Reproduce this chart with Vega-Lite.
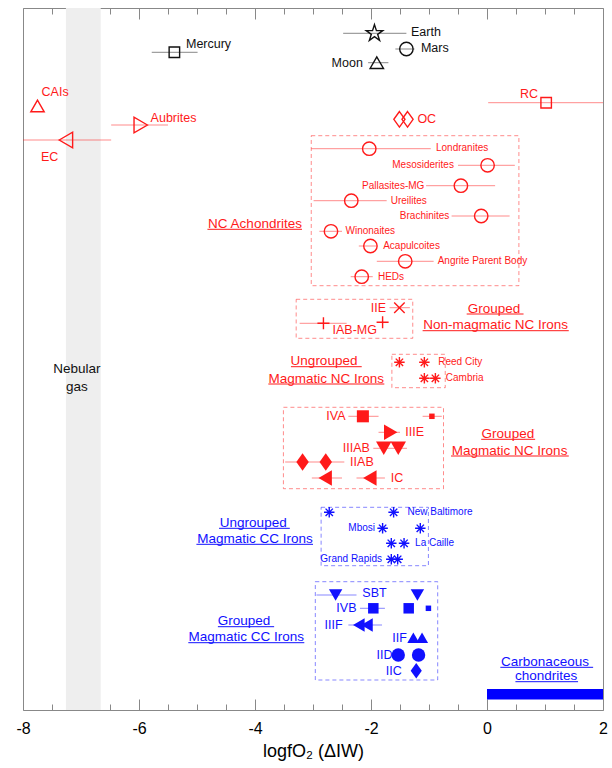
{
  "$schema": "https://vega.github.io/schema/vega-lite/v6.json",
  "width": 580,
  "height": 702,
  "autosize": "none",
  "padding": {"left": 23, "top": 8, "right": 9, "bottom": 58},
  "config": {
    "view": {"stroke": "#888888", "strokeWidth": 1},
    "font": "Liberation Sans",
    "text": {"font": "Liberation Sans"}
  },
  "datasets": {
    "points": [
      {"name": "Earth", "x": -1.94, "h": 676.7, "sym": "star", "grp": "P", "kind": "open", "sz": "huge"},
      {"name": "Mars", "x": -1.39, "h": 661, "sym": "circle", "grp": "P", "kind": "open", "sz": "normal"},
      {"name": "Moon", "x": -1.9, "h": 647.3, "sym": "tri-up", "grp": "P", "kind": "open", "sz": "normal"},
      {"name": "Mercury", "x": -5.39, "h": 657.7, "sym": "square", "grp": "P", "kind": "open", "sz": "small"},
      {"name": "CAIs", "x": -7.75, "h": 604, "sym": "tri-up", "grp": "NC", "kind": "open", "sz": "normal"},
      {"name": "Aubrites", "x": -5.97, "h": 585, "sym": "tri-right", "grp": "NC", "kind": "open", "sz": "large"},
      {"name": "EC", "x": -7.26, "h": 570, "sym": "tri-left", "grp": "NC", "kind": "open", "sz": "large"},
      {"name": "RC", "x": 1.02, "h": 607.3, "sym": "square", "grp": "NC", "kind": "open", "sz": "small"},
      {"name": "OC", "x": -1.51, "h": 590.7, "sym": "diamond", "grp": "NC", "kind": "open", "sz": "large"},
      {"name": "OC", "x": -1.37, "h": 590.7, "sym": "diamond", "grp": "NC", "kind": "open", "sz": "large"},
      {"name": "Londranites", "x": -2.03, "h": 561.3, "sym": "circle", "grp": "NC", "kind": "open", "sz": "normal"},
      {"name": "Mesosiderites", "x": 0.01, "h": 544.7, "sym": "circle", "grp": "NC", "kind": "open", "sz": "normal"},
      {"name": "Pallasites-MG", "x": -0.45, "h": 524.3, "sym": "circle", "grp": "NC", "kind": "open", "sz": "normal"},
      {"name": "Ureilites", "x": -2.34, "h": 509.3, "sym": "circle", "grp": "NC", "kind": "open", "sz": "normal"},
      {"name": "Brachinites", "x": -0.1, "h": 494, "sym": "circle", "grp": "NC", "kind": "open", "sz": "normal"},
      {"name": "Winonaites", "x": -2.69, "h": 478.7, "sym": "circle", "grp": "NC", "kind": "open", "sz": "normal"},
      {"name": "Acapulcoites", "x": -2.01, "h": 464, "sym": "circle", "grp": "NC", "kind": "open", "sz": "normal"},
      {"name": "Angrite Parent Body", "x": -1.41, "h": 448.7, "sym": "circle", "grp": "NC", "kind": "open", "sz": "normal"},
      {"name": "HEDs", "x": -2.16, "h": 433.3, "sym": "circle", "grp": "NC", "kind": "open", "sz": "normal"},
      {"name": "IIE", "x": -1.51, "h": 402.3, "sym": "x", "grp": "NC", "kind": "open", "sz": "small"},
      {"name": "IAB-MG", "x": -2.82, "h": 386.7, "sym": "plus", "grp": "NC", "kind": "open", "sz": "medium"},
      {"name": "IAB-MG", "x": -1.8, "h": 387.7, "sym": "plus", "grp": "NC", "kind": "open", "sz": "medium"},
      {"name": "ungrouped NC", "x": -1.51, "h": 347.7, "sym": "asterisk", "grp": "NC", "kind": "open", "sz": "small"},
      {"name": "Reed City", "x": -1.08, "h": 347.7, "sym": "asterisk", "grp": "NC", "kind": "open", "sz": "small"},
      {"name": "ungrouped NC", "x": -1.08, "h": 331.7, "sym": "asterisk", "grp": "NC", "kind": "open", "sz": "small"},
      {"name": "Cambria", "x": -0.89, "h": 331.7, "sym": "asterisk", "grp": "NC", "kind": "open", "sz": "small"},
      {"name": "IVA", "x": -2.14, "h": 293.7, "sym": "square", "grp": "NC", "kind": "filled", "sz": "medium"},
      {"name": "IVA", "x": -0.95, "h": 293.7, "sym": "square", "grp": "NC", "kind": "filled", "sz": "tiny"},
      {"name": "IIIE", "x": -1.66, "h": 277.7, "sym": "tri-right", "grp": "NC", "kind": "filled", "sz": "large"},
      {"name": "IIIAB", "x": -1.78, "h": 261.7, "sym": "tri-down", "grp": "NC", "kind": "filled", "sz": "large"},
      {"name": "IIIAB", "x": -1.53, "h": 261.7, "sym": "tri-down", "grp": "NC", "kind": "filled", "sz": "large"},
      {"name": "IIAB", "x": -3.18, "h": 248, "sym": "diamond", "grp": "NC", "kind": "filled", "sz": "huge"},
      {"name": "IIAB", "x": -2.78, "h": 248, "sym": "diamond", "grp": "NC", "kind": "filled", "sz": "huge"},
      {"name": "IC", "x": -2.79, "h": 232, "sym": "tri-left", "grp": "NC", "kind": "filled", "sz": "large"},
      {"name": "IC", "x": -2.02, "h": 232, "sym": "tri-left", "grp": "NC", "kind": "filled", "sz": "large"},
      {"name": "ungrouped CC", "x": -2.72, "h": 197.7, "sym": "asterisk", "grp": "CC", "kind": "open", "sz": "small"},
      {"name": "New Baltimore", "x": -1.61, "h": 197.7, "sym": "asterisk", "grp": "CC", "kind": "open", "sz": "small"},
      {"name": "Mbosi", "x": -1.8, "h": 181.7, "sym": "asterisk", "grp": "CC", "kind": "open", "sz": "small"},
      {"name": "ungrouped CC", "x": -1.15, "h": 181.7, "sym": "asterisk", "grp": "CC", "kind": "open", "sz": "small"},
      {"name": "La Caille", "x": -1.65, "h": 166.7, "sym": "asterisk", "grp": "CC", "kind": "open", "sz": "small"},
      {"name": "La Caille", "x": -1.43, "h": 166.7, "sym": "asterisk", "grp": "CC", "kind": "open", "sz": "small"},
      {"name": "Grand Rapids", "x": -1.65, "h": 150.7, "sym": "asterisk", "grp": "CC", "kind": "open", "sz": "small"},
      {"name": "Grand Rapids", "x": -1.54, "h": 150.7, "sym": "asterisk", "grp": "CC", "kind": "open", "sz": "small"},
      {"name": "SBT", "x": -2.61, "h": 115, "sym": "tri-down", "grp": "CC", "kind": "filled", "sz": "normal"},
      {"name": "SBT", "x": -1.2, "h": 115, "sym": "tri-down", "grp": "CC", "kind": "filled", "sz": "normal"},
      {"name": "IVB", "x": -1.96, "h": 101.7, "sym": "square", "grp": "CC", "kind": "filled", "sz": "small"},
      {"name": "IVB", "x": -1.35, "h": 101.7, "sym": "square", "grp": "CC", "kind": "filled", "sz": "small"},
      {"name": "IVB", "x": -1.01, "h": 101.7, "sym": "square", "grp": "CC", "kind": "filled", "sz": "tiny"},
      {"name": "IIIF", "x": -2.21, "h": 85, "sym": "tri-left", "grp": "CC", "kind": "filled", "sz": "normal"},
      {"name": "IIIF", "x": -2.07, "h": 85, "sym": "tri-left", "grp": "CC", "kind": "filled", "sz": "normal"},
      {"name": "IIF", "x": -1.27, "h": 72.3, "sym": "tri-up", "grp": "CC", "kind": "filled", "sz": "medium"},
      {"name": "IIF", "x": -1.12, "h": 72.3, "sym": "tri-up", "grp": "CC", "kind": "filled", "sz": "medium"},
      {"name": "IID", "x": -1.53, "h": 55, "sym": "circle", "grp": "CC", "kind": "filled", "sz": "normal"},
      {"name": "IID", "x": -1.18, "h": 55, "sym": "circle", "grp": "CC", "kind": "filled", "sz": "normal"},
      {"name": "IIC", "x": -1.22, "h": 39.3, "sym": "diamond", "grp": "CC", "kind": "filled", "sz": "large"}
    ],
    "bars": [
      {"name": "Earth", "lo": -2.48, "hi": -1.39, "h": 676.7, "grp": "P"},
      {"name": "Mars", "lo": -1.58, "hi": -1.25, "h": 661, "grp": "P"},
      {"name": "Moon", "lo": -2.05, "hi": -1.7, "h": 647.3, "grp": "P"},
      {"name": "Mercury", "lo": -5.78, "hi": -4.99, "h": 657.7, "grp": "P"},
      {"name": "Aubrites", "lo": -6.48, "hi": -5.5, "h": 585, "grp": "NC"},
      {"name": "EC", "lo": -8, "hi": -6.48, "h": 570, "grp": "NC"},
      {"name": "RC", "lo": 0.02, "hi": 2, "h": 607.3, "grp": "NC"},
      {"name": "Londranites", "lo": -3.03, "hi": -0.97, "h": 561.3, "grp": "NC"},
      {"name": "Mesosiderites", "lo": -0.5, "hi": 0.48, "h": 544.7, "grp": "NC"},
      {"name": "Pallasites-MG", "lo": -1.05, "hi": 0.14, "h": 524.3, "grp": "NC"},
      {"name": "Ureilites", "lo": -2.99, "hi": -1.73, "h": 509.3, "grp": "NC"},
      {"name": "Brachinites", "lo": -0.61, "hi": 0.39, "h": 494, "grp": "NC"},
      {"name": "Winonaites", "lo": -2.89, "hi": -2.5, "h": 478.7, "grp": "NC"},
      {"name": "Acapulcoites", "lo": -2.21, "hi": -1.9, "h": 464, "grp": "NC"},
      {"name": "Angrite Parent Body", "lo": -1.9, "hi": -0.92, "h": 448.7, "grp": "NC"},
      {"name": "HEDs", "lo": -2.35, "hi": -1.97, "h": 433.3, "grp": "NC"},
      {"name": "IIE", "lo": -1.68, "hi": -1.33, "h": 402.3, "grp": "NC"},
      {"name": "IAB-MG", "lo": -3.23, "hi": -2.42, "h": 386.7, "grp": "NC"},
      {"name": "Cambria", "lo": -1.08, "hi": -0.89, "h": 331.7, "grp": "NC"},
      {"name": "IVA", "lo": -2.39, "hi": -1.87, "h": 293.7, "grp": "NC"},
      {"name": "IVA", "lo": -1.11, "hi": -0.78, "h": 293.7, "grp": "NC"},
      {"name": "IIIE", "lo": -1.87, "hi": -1.5, "h": 277.7, "grp": "NC"},
      {"name": "IIIAB", "lo": -1.96, "hi": -1.38, "h": 261.7, "grp": "NC"},
      {"name": "IIAB", "lo": -3.48, "hi": -2.46, "h": 248, "grp": "NC"},
      {"name": "IC", "lo": -3.02, "hi": -2.5, "h": 232, "grp": "NC"},
      {"name": "IC", "lo": -2.25, "hi": -1.76, "h": 232, "grp": "NC"},
      {"name": "SBT", "lo": -2.94, "hi": -2.25, "h": 115, "grp": "CC"},
      {"name": "IVB", "lo": -2.19, "hi": -1.76, "h": 101.7, "grp": "CC"},
      {"name": "IIIF", "lo": -2.39, "hi": -1.81, "h": 85, "grp": "CC"}
    ],
    "boxes": [
      {"lo": -3.03, "hi": 0.55, "top": 574.3, "bot": 424.3, "grp": "NC"},
      {"lo": -3.29, "hi": -1.28, "top": 410.7, "bot": 371.7, "grp": "NC"},
      {"lo": -1.64, "hi": -0.72, "top": 355.7, "bot": 322.3, "grp": "NC"},
      {"lo": -3.51, "hi": -0.75, "top": 302.7, "bot": 221.3, "grp": "NC"},
      {"lo": -2.86, "hi": -1.01, "top": 202.7, "bot": 144.3, "grp": "CC"},
      {"lo": -2.96, "hi": -0.85, "top": 128.3, "bot": 30, "grp": "CC"}
    ],
    "underlines": [
      {"lo": -4.82, "hi": -3.19, "h": 480.7, "grp": "NC"},
      {"lo": -0.35, "hi": 0.63, "h": 396, "grp": "NC"},
      {"lo": -1.11, "hi": 1.41, "h": 379.3, "grp": "NC"},
      {"lo": -3.38, "hi": -2.16, "h": 343.3, "grp": "NC"},
      {"lo": -3.77, "hi": -1.77, "h": 326, "grp": "NC"},
      {"lo": -0.1, "hi": 0.83, "h": 270.7, "grp": "NC"},
      {"lo": -0.62, "hi": 1.41, "h": 254, "grp": "NC"},
      {"lo": -4.62, "hi": -3.4, "h": 181.7, "grp": "CC"},
      {"lo": -5.01, "hi": -3.0, "h": 165.7, "grp": "CC"},
      {"lo": -4.64, "hi": -3.67, "h": 83.3, "grp": "CC"},
      {"lo": -5.15, "hi": -3.15, "h": 67.3, "grp": "CC"},
      {"lo": 0.23, "hi": 1.83, "h": 42.7, "grp": "CC"},
      {"lo": 0.49, "hi": 1.57, "h": 28.3, "grp": "CC"}
    ],
    "labels": [
      {"text": "Earth", "x": -1.31, "h": 678, "cls": "L12", "grp": "P"},
      {"text": "Mars", "x": -1.14, "h": 662, "cls": "L12", "grp": "P"},
      {"text": "Mercury", "x": -5.19, "h": 666, "cls": "L12", "grp": "P"},
      {"text": "CAIs", "x": -7.68, "h": 618, "cls": "L12", "grp": "NC"},
      {"text": "Aubrites", "x": -5.8, "h": 592, "cls": "L12", "grp": "NC"},
      {"text": "EC", "x": -7.69, "h": 553, "cls": "L12", "grp": "NC"},
      {"text": "OC", "x": -1.2, "h": 590.7, "cls": "L12", "grp": "NC"},
      {"text": "IIIE", "x": -1.41, "h": 277.7, "cls": "L12", "grp": "NC"},
      {"text": "IIAB", "x": -2.36, "h": 248, "cls": "L12", "grp": "NC"},
      {"text": "IC", "x": -1.66, "h": 232, "cls": "L12", "grp": "NC"},
      {"text": "SBT", "x": -2.15, "h": 117, "cls": "L12", "grp": "CC"},
      {"text": "Moon", "x": -2.14, "h": 647.3, "cls": "R12", "grp": "P"},
      {"text": "RC", "x": 0.88, "h": 616, "cls": "R12", "grp": "NC"},
      {"text": "IIE", "x": -1.74, "h": 402.3, "cls": "R12", "grp": "NC"},
      {"text": "IVA", "x": -2.44, "h": 294, "cls": "R12", "grp": "NC"},
      {"text": "IIIAB", "x": -2.02, "h": 262, "cls": "R12", "grp": "NC"},
      {"text": "IVB", "x": -2.25, "h": 101.7, "cls": "R12", "grp": "CC"},
      {"text": "IIIF", "x": -2.49, "h": 85, "cls": "R12", "grp": "CC"},
      {"text": "IIF", "x": -1.38, "h": 72.3, "cls": "R12", "grp": "CC"},
      {"text": "IID", "x": -1.63, "h": 55, "cls": "R12", "grp": "CC"},
      {"text": "IIC", "x": -1.47, "h": 39.3, "cls": "R12", "grp": "CC"},
      {"text": "IAB-MG", "x": -2.28, "h": 380, "cls": "C12", "grp": "NC"},
      {"text": "Londranites", "x": -0.88, "h": 562.5, "cls": "L10", "grp": "NC"},
      {"text": "Ureilites", "x": -1.66, "h": 509.3, "cls": "L10", "grp": "NC"},
      {"text": "Winonaites", "x": -2.44, "h": 478.7, "cls": "L10", "grp": "NC"},
      {"text": "Acapulcoites", "x": -1.79, "h": 464, "cls": "L10", "grp": "NC"},
      {"text": "Angrite Parent Body", "x": -0.85, "h": 449, "cls": "L10", "grp": "NC"},
      {"text": "HEDs", "x": -1.88, "h": 433.3, "cls": "L10", "grp": "NC"},
      {"text": "Reed City", "x": -0.84, "h": 347.7, "cls": "L10", "grp": "NC"},
      {"text": "Cambria", "x": -0.71, "h": 331.7, "cls": "L10", "grp": "NC"},
      {"text": "New Baltimore", "x": -1.37, "h": 197.7, "cls": "L10", "grp": "CC"},
      {"text": "La Caille", "x": -1.24, "h": 166.7, "cls": "L10", "grp": "CC"},
      {"text": "Mesosiderites", "x": -0.57, "h": 545, "cls": "R10", "grp": "NC"},
      {"text": "Pallasites-MG", "x": -1.08, "h": 524, "cls": "R10", "grp": "NC"},
      {"text": "Brachinites", "x": -0.65, "h": 494, "cls": "R10", "grp": "NC"},
      {"text": "Mbosi", "x": -1.93, "h": 181.7, "cls": "R10", "grp": "CC"},
      {"text": "Grand Rapids", "x": -1.81, "h": 150.7, "cls": "R10", "grp": "CC"},
      {"text": "NC Achondrites", "x": -4.0, "h": 482.2, "cls": "G", "grp": "NC"},
      {"text": "Grouped", "x": 0.12, "h": 397.5, "cls": "G", "grp": "NC"},
      {"text": "Non-magmatic NC Irons", "x": 0.15, "h": 380.8, "cls": "G", "grp": "NC"},
      {"text": "Ungrouped", "x": -2.81, "h": 344.8, "cls": "G", "grp": "NC"},
      {"text": "Magmatic NC Irons", "x": -2.77, "h": 327.5, "cls": "G", "grp": "NC"},
      {"text": "Grouped", "x": 0.36, "h": 272.2, "cls": "G", "grp": "NC"},
      {"text": "Magmatic NC Irons", "x": 0.39, "h": 255.5, "cls": "G", "grp": "NC"},
      {"text": "Ungrouped", "x": -4.03, "h": 183.2, "cls": "G", "grp": "CC"},
      {"text": "Magmatic CC Irons", "x": -4.0, "h": 167.2, "cls": "G", "grp": "CC"},
      {"text": "Grouped", "x": -4.19, "h": 84.8, "cls": "G", "grp": "CC"},
      {"text": "Magmatic CC Irons", "x": -4.15, "h": 68.8, "cls": "G", "grp": "CC"},
      {"text": "Carbonaceous", "x": 1.0, "h": 44.2, "cls": "G", "grp": "CC"},
      {"text": "chondrites", "x": 1.02, "h": 29.8, "cls": "G", "grp": "CC"},
      {"text": "Nebular", "x": -7.07, "h": 337.3, "cls": "G", "grp": "P"},
      {"text": "gas", "x": -7.07, "h": 319.3, "cls": "G", "grp": "P"}
    ]
  },
  "layer": [
    {
      "data": {"values": [{"lo": -7.26, "hi": -6.66, "region": "Nebular gas"}]},
      "mark": {"type": "rect", "color": "#eeeeee"},
      "encoding": {
        "x": {"field": "lo", "type": "quantitative", "scale": {"domain": [-8, 2], "nice": false, "zero": false},
          "axis": {"orient": "top", "values": [-8, -7.5, -7, -6.5, -6, -5.5, -5, -4.5, -4, -3.5, -3, -2.5, -2, -1.5, -1, -0.5, 0, 0.5, 1, 1.5, 2],
            "labels": false, "domain": false, "grid": false, "title": null, "tickColor": "#888888", "tickWidth": 1,
            "tickSize": {"condition": {"test": "datum.value % 2 === 0", "value": -11}, "value": -6}}},
        "x2": {"field": "hi"}
      }
    },
    {
      "data": {"values": [{"lo": 0, "hi": 2, "b": 10.5, "t": 21}]},
      "mark": {"type": "rect", "color": "#0000ff"},
      "encoding": {
        "x": {"field": "lo", "type": "quantitative", "axis": null},
        "x2": {"field": "hi"},
        "y": {"field": "b", "type": "quantitative", "scale": {"domain": [0, 702], "nice": false, "zero": false}, "axis": null},
        "y2": {"field": "t"}
      }
    },
    {
      "data": {"name": "boxes"},
      "mark": {"type": "rect", "filled": false, "strokeDash": [4, 3], "strokeWidth": 1, "opacity": 0.5},
      "encoding": {
        "x": {"field": "lo", "type": "quantitative", "axis": null},
        "x2": {"field": "hi"},
        "y": {"field": "top", "type": "quantitative", "axis": null},
        "y2": {"field": "bot"},
        "color": {"field": "grp", "type": "nominal", "scale": {"domain": ["P", "NC", "CC"], "range": ["#111111", "#ff1a1a", "#1010ff"]}, "legend": null}
      }
    },
    {
      "data": {"name": "bars"},
      "mark": {"type": "rule", "strokeWidth": 1, "opacity": 0.5},
      "encoding": {
        "x": {"field": "lo", "type": "quantitative",
          "axis": {"orient": "bottom", "values": [-8, -7.5, -7, -6.5, -6, -5.5, -5, -4.5, -4, -3.5, -3, -2.5, -2, -1.5, -1, -0.5, 0, 0.5, 1, 1.5, 2],
            "labelExpr": "datum.value % 2 === 0 ? toString(datum.value) : ''",
            "labelFontSize": 16, "labelColor": "#000000", "labelFont": "Liberation Sans", "labelPadding": 21, "labelFlush": false,
            "domain": false, "grid": false, "tickColor": "#888888", "tickWidth": 1,
            "tickSize": {"condition": {"test": "datum.value % 2 === 0", "value": -11}, "value": -6},
            "title": "logfO₂ (ΔIW)", "titleFontSize": 18, "titleFontWeight": "normal", "titleColor": "#000000", "titleFont": "Liberation Sans", "titlePadding": 6}},
        "x2": {"field": "hi"},
        "y": {"field": "h", "type": "quantitative", "axis": null},
        "color": {"field": "grp", "type": "nominal", "legend": null}
      }
    },
    {
      "data": {"name": "underlines"},
      "mark": {"type": "rule", "strokeWidth": 1},
      "encoding": {
        "x": {"field": "lo", "type": "quantitative", "axis": null},
        "x2": {"field": "hi"},
        "y": {"field": "h", "type": "quantitative", "axis": null},
        "color": {"field": "grp", "type": "nominal", "legend": null}
      }
    },
    {
      "data": {"name": "points"},
      "transform": [{"filter": "datum.kind === 'open'"}],
      "mark": {"type": "point", "filled": false, "strokeWidth": 1.4, "opacity": 1},
      "encoding": {
        "x": {"field": "x", "type": "quantitative", "axis": null},
        "y": {"field": "h", "type": "quantitative", "axis": null},
        "color": {"field": "grp", "type": "nominal", "legend": null},
        "shape": {"field": "sym", "type": "nominal", "legend": null,
          "scale": {"domain": ["circle", "square", "star", "tri-up", "tri-down", "tri-left", "tri-right", "diamond", "plus", "x", "asterisk"],
            "range": ["circle", "square", "M0,-1L0.2245,-0.309L0.951,-0.309L0.363,0.118L0.588,0.809L0,0.382L-0.588,0.809L-0.363,0.118L-0.951,-0.309L-0.2245,-0.309Z", "triangle-up", "triangle-down", "triangle-left", "triangle-right", "M0,-1L0.72,0L0,1L-0.72,0Z", "M-1,0L1,0M0,-1L0,1", "M-1,-1L1,1M-1,1L1,-1", "M-1,0L1,0M0,-1L0,1M-0.7,-0.7L0.7,0.7M-0.7,0.7L0.7,-0.7"]}},
        "size": {"field": "sz", "type": "ordinal", "legend": null,
          "scale": {"type": "ordinal", "domain": ["tiny", "small", "medium", "normal", "large", "huge"], "range": [30, 110, 145, 180, 240, 300]}}
      }
    },
    {
      "data": {"name": "points"},
      "transform": [{"filter": "datum.kind === 'filled'"}],
      "mark": {"type": "point", "filled": true, "opacity": 1},
      "encoding": {
        "x": {"field": "x", "type": "quantitative", "axis": null},
        "y": {"field": "h", "type": "quantitative", "axis": null},
        "color": {"field": "grp", "type": "nominal", "legend": null},
        "shape": {"field": "sym", "type": "nominal", "legend": null},
        "size": {"field": "sz", "type": "ordinal", "legend": null,
          "scale": {"type": "ordinal", "domain": ["tiny", "small", "medium", "normal", "large", "huge"], "range": [30, 110, 145, 180, 240, 300]}}
      }
    },
    {
      "data": {"name": "labels"},
      "transform": [{"filter": "datum.cls === 'L12'"}],
      "mark": {"type": "text", "align": "left", "baseline": "middle", "fontSize": 12.5},
      "encoding": {
        "x": {"field": "x", "type": "quantitative", "axis": null},
        "y": {"field": "h", "type": "quantitative", "axis": null},
        "text": {"field": "text"},
        "color": {"field": "grp", "type": "nominal", "legend": null}
      }
    },
    {
      "data": {"name": "labels"},
      "transform": [{"filter": "datum.cls === 'R12'"}],
      "mark": {"type": "text", "align": "right", "baseline": "middle", "fontSize": 12.5},
      "encoding": {
        "x": {"field": "x", "type": "quantitative", "axis": null},
        "y": {"field": "h", "type": "quantitative", "axis": null},
        "text": {"field": "text"},
        "color": {"field": "grp", "type": "nominal", "legend": null}
      }
    },
    {
      "data": {"name": "labels"},
      "transform": [{"filter": "datum.cls === 'C12'"}],
      "mark": {"type": "text", "align": "center", "baseline": "middle", "fontSize": 12.5},
      "encoding": {
        "x": {"field": "x", "type": "quantitative", "axis": null},
        "y": {"field": "h", "type": "quantitative", "axis": null},
        "text": {"field": "text"},
        "color": {"field": "grp", "type": "nominal", "legend": null}
      }
    },
    {
      "data": {"name": "labels"},
      "transform": [{"filter": "datum.cls === 'L10'"}],
      "mark": {"type": "text", "align": "left", "baseline": "middle", "fontSize": 10},
      "encoding": {
        "x": {"field": "x", "type": "quantitative", "axis": null},
        "y": {"field": "h", "type": "quantitative", "axis": null},
        "text": {"field": "text"},
        "color": {"field": "grp", "type": "nominal", "legend": null}
      }
    },
    {
      "data": {"name": "labels"},
      "transform": [{"filter": "datum.cls === 'R10'"}],
      "mark": {"type": "text", "align": "right", "baseline": "middle", "fontSize": 10},
      "encoding": {
        "x": {"field": "x", "type": "quantitative", "axis": null},
        "y": {"field": "h", "type": "quantitative", "axis": null},
        "text": {"field": "text"},
        "color": {"field": "grp", "type": "nominal", "legend": null}
      }
    },
    {
      "data": {"name": "labels"},
      "transform": [{"filter": "datum.cls === 'G'"}],
      "mark": {"type": "text", "align": "center", "baseline": "alphabetic", "fontSize": 13.5},
      "encoding": {
        "x": {"field": "x", "type": "quantitative", "axis": null},
        "y": {"field": "h", "type": "quantitative", "axis": null},
        "text": {"field": "text"},
        "color": {"field": "grp", "type": "nominal", "legend": null}
      }
    }
  ],
  "resolve": {"axis": {"x": "independent"}}
}
